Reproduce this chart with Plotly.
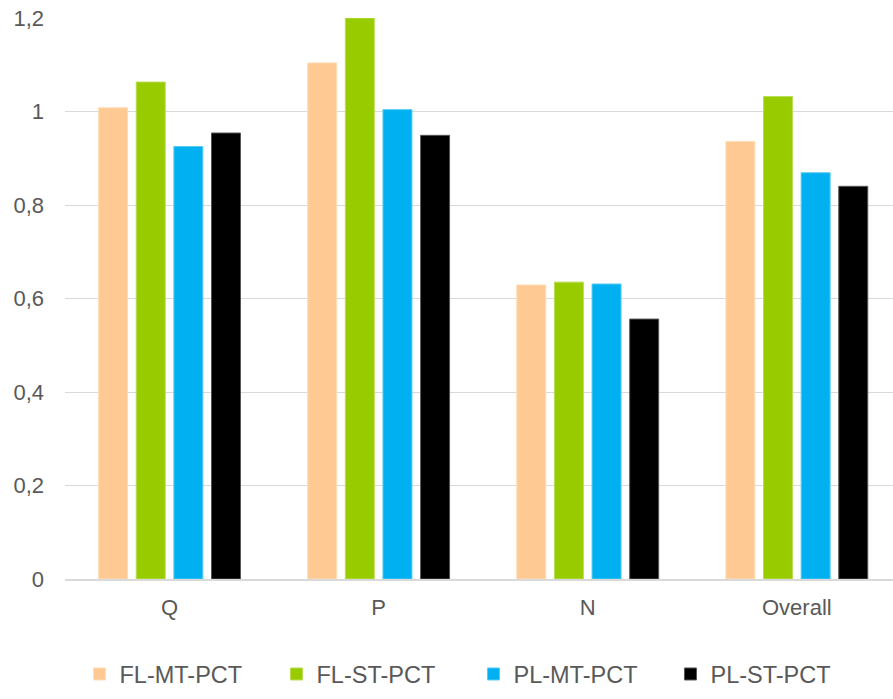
import plotly.graph_objects as go

# Categories and series values
categories = ["Q", "P", "N", "Overall"]
fl_mt_pct = [1.008, 1.104, 0.629, 0.936]
fl_st_pct = [1.063, 1.200, 0.635, 1.032]
pl_mt_pct = [0.925, 1.004, 0.631, 0.869]
pl_st_pct = [0.954, 0.949, 0.556, 0.840]

y_ticks = [0, 0.2, 0.4, 0.6, 0.8, 1.0, 1.2]
y_tick_text = ["0", "0,2", "0,4", "0,6", "0,8", "1", "1,2"]

series = [
    ("FL-MT-PCT", fl_mt_pct, "#FFC993", "#FFDDB8"),
    ("FL-ST-PCT", fl_st_pct, "#99CC00", "#B8DD55"),
    ("PL-MT-PCT", pl_mt_pct, "#00B0F0", "#55CCF5"),
    ("PL-ST-PCT", pl_st_pct, "#000000", "#555555"),
]

FONT = "Liberation Sans, Arial, sans-serif"
TEXT_COLOR = "#595959"
GRID = "#D9D9D9"

fig = go.Figure()
for name, vals, color, edge in series:
    fig.add_trace(go.Bar(
        x=categories, y=vals, name=name,
        marker=dict(color=color, line=dict(color=edge, width=1)),
    ))

fig.update_layout(
    width=893, height=699,
    margin=dict(l=65, r=0, t=18, b=120, autoexpand=False),
    paper_bgcolor="white", plot_bgcolor="white",
    barmode="group", bargap=0.28, bargroupgap=0.23,
    font=dict(family=FONT, size=22, color=TEXT_COLOR),
    showlegend=True,
    legend=dict(
        orientation="h",
        xref="container", x=0.089, xanchor="left",
        yref="container", y=0.004, yanchor="bottom",
        font=dict(family=FONT, size=23.5, color=TEXT_COLOR),
        entrywidth=152, entrywidthmode="pixels",
        itemwidth=30, traceorder="normal",
        bgcolor="rgba(0,0,0,0)",
    ),
)

fig.update_xaxes(
    range=[-0.5, 3.46],
    showline=True, linecolor=GRID, linewidth=1.5,
    showgrid=False, ticks="", ticklabelstandoff=8,
    tickfont=dict(family=FONT, size=22, color=TEXT_COLOR),
)
fig.update_yaxes(
    range=[0, 1.2], tickvals=y_ticks, ticktext=y_tick_text,
    showgrid=True, gridcolor=GRID, gridwidth=1.3,
    zeroline=False, showline=False, ticks="",
    ticklabelstandoff=20,
    tickfont=dict(family=FONT, size=22, color=TEXT_COLOR),
)

fig.write_html("out.html")
